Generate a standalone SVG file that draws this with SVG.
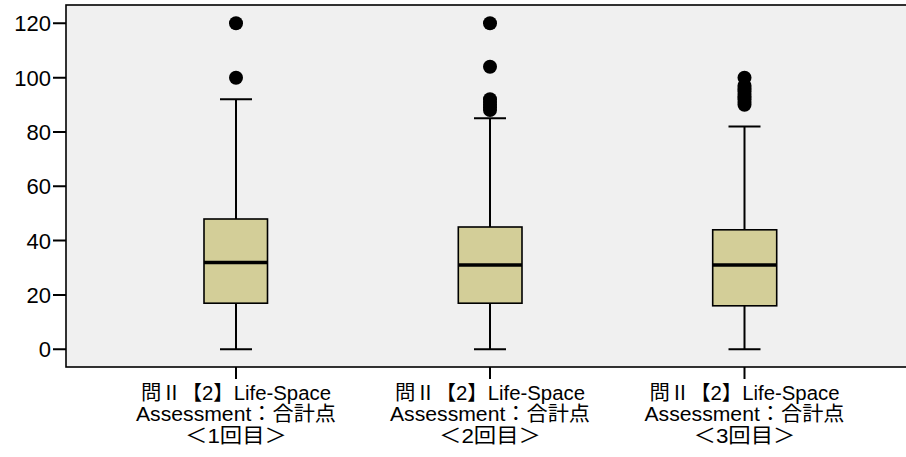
<svg xmlns="http://www.w3.org/2000/svg" width="906" height="457" viewBox="0 0 906 457">
<style>
.frame{fill:#f0f0f0;stroke:#000;stroke-width:1.6}
.ax{stroke:#000;stroke-width:2;fill:none}
.ytxt{font-family:"Liberation Sans",Arial,sans-serif;font-size:22px;fill:#000;text-anchor:end}
.xtxt{font-family:"Liberation Sans","Noto Sans CJK JP",sans-serif;font-size:20px;fill:#000;text-anchor:middle}
.box{fill:#d3ce98;stroke:#000;stroke-width:1.6}
.med{stroke:#000;stroke-width:3.5}
.wh{stroke:#000;stroke-width:2;fill:none}
.out{fill:#000}
</style>
<rect class="frame" x="66" y="5" width="850" height="362"/>
<g id="yaxis">
<path class="ax" d="M53 23.3H66M53 77.7H66M53 132H66M53 186.3H66M53 240.6H66M53 295H66M53 349.3H66"/>
<text class="ytxt" x="51" y="31.3">120</text>
<text class="ytxt" x="51" y="85.7">100</text>
<text class="ytxt" x="51" y="140">80</text>
<text class="ytxt" x="51" y="194.3">60</text>
<text class="ytxt" x="51" y="248.6">40</text>
<text class="ytxt" x="51" y="303">20</text>
<text class="ytxt" x="51" y="357.3">0</text>
</g>
<g id="xaxis">
<path class="ax" d="M236 367V379M490 367V379M744.5 367V379"/>
</g>
<g id="box1">
<path class="wh" d="M236 99.3V219M236 303.2V349.3M220 99.3H252M220 349.3H252"/>
<rect class="box" x="204" y="219" width="63.5" height="84.2"/>
<line class="med" x1="204" y1="262.5" x2="267.5" y2="262.5"/>
<circle class="out" cx="236" cy="23.3" r="7"/>
<circle class="out" cx="236" cy="77.7" r="7"/>
<text class="xtxt" x="236" y="400" textLength="190" lengthAdjust="spacingAndGlyphs">問Ⅱ【2】Life-Space</text>
<text class="xtxt" x="236" y="421" textLength="200" lengthAdjust="spacingAndGlyphs">Assessment：合計点</text>
<text class="xtxt" x="236" y="443" textLength="102" lengthAdjust="spacingAndGlyphs">＜1回目＞</text>
</g>
<g id="box2">
<path class="wh" d="M490 118.3V227M490 303.2V349.3M474 118.3H506M474 349.3H506"/>
<rect class="box" x="458.3" y="227" width="63.7" height="76.2"/>
<line class="med" x1="458.3" y1="265" x2="522" y2="265"/>
<circle class="out" cx="490" cy="23.3" r="7"/>
<circle class="out" cx="490" cy="66.7" r="7"/>
<circle class="out" cx="490" cy="99.3" r="7"/>
<circle class="out" cx="490" cy="102" r="7"/>
<circle class="out" cx="490" cy="104.8" r="7"/>
<circle class="out" cx="490" cy="107.5" r="7"/>
<circle class="out" cx="490" cy="110" r="7"/>
<text class="xtxt" x="490" y="400" textLength="190" lengthAdjust="spacingAndGlyphs">問Ⅱ【2】Life-Space</text>
<text class="xtxt" x="490" y="421" textLength="200" lengthAdjust="spacingAndGlyphs">Assessment：合計点</text>
<text class="xtxt" x="490" y="443" textLength="102" lengthAdjust="spacingAndGlyphs">＜2回目＞</text>
</g>
<g id="box3">
<path class="wh" d="M744.5 126.5V229.8M744.5 305.8V349.3M728.5 126.5H760.5M728.5 349.3H760.5"/>
<rect class="box" x="712.7" y="229.8" width="64" height="76"/>
<line class="med" x1="712.7" y1="265" x2="776.7" y2="265"/>
<circle class="out" cx="744.5" cy="77.7" r="7"/>
<circle class="out" cx="744.5" cy="85.8" r="7"/>
<circle class="out" cx="744.5" cy="88.5" r="7"/>
<circle class="out" cx="744.5" cy="91.2" r="7"/>
<circle class="out" cx="744.5" cy="94" r="7"/>
<circle class="out" cx="744.5" cy="96.6" r="7"/>
<circle class="out" cx="744.5" cy="99.3" r="7"/>
<circle class="out" cx="744.5" cy="102" r="7"/>
<circle class="out" cx="744.5" cy="104.8" r="7"/>
<text class="xtxt" x="744.5" y="400" textLength="190" lengthAdjust="spacingAndGlyphs">問Ⅱ【2】Life-Space</text>
<text class="xtxt" x="744.5" y="421" textLength="200" lengthAdjust="spacingAndGlyphs">Assessment：合計点</text>
<text class="xtxt" x="744.5" y="443" textLength="102" lengthAdjust="spacingAndGlyphs">＜3回目＞</text>
</g>
</svg>
